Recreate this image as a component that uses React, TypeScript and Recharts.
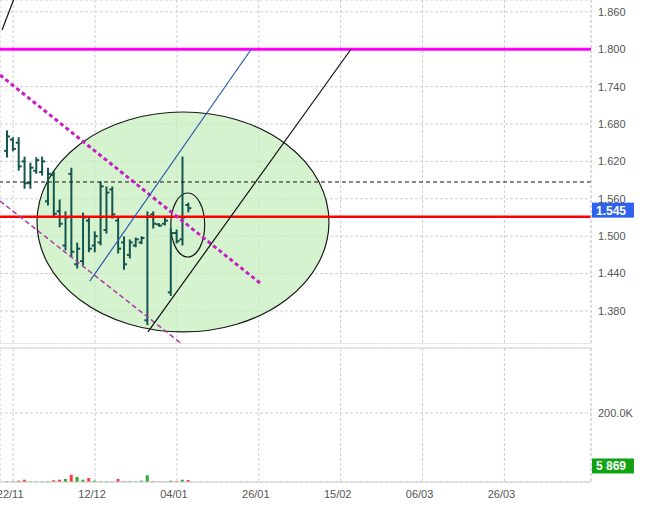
import React from 'react';
import {
  ComposedChart,
  Bar,
  Cell,
  XAxis,
  YAxis,
  CartesianGrid,
  ReferenceLine,
  ReferenceArea,
} from 'recharts';

// daily OHLC bars, oldest first
const highs = [1.669, 1.658, 1.658, 1.627, 1.617, 1.626, 1.627, 1.609, 1.603, 1.558, 1.539, 1.609, 1.489, 1.537, 1.531, 1.507, 1.587, 1.579, 1.579, 1.529, 1.499, 1.494, 1.497, 1.499, 1.539, 1.539, 1.520, 1.529, 1.512, 1.510, 1.627, 1.553];
const lows = [1.627, 1.637, 1.606, 1.577, 1.577, 1.601, 1.598, 1.550, 1.531, 1.515, 1.478, 1.467, 1.449, 1.454, 1.475, 1.475, 1.486, 1.505, 1.529, 1.473, 1.447, 1.465, 1.483, 1.488, 1.358, 1.513, 1.516, 1.518, 1.405, 1.489, 1.486, 1.539];
const opens = [1.637, 1.655, 1.650, 1.620, 1.585, 1.605, 1.603, 1.556, 1.598, 1.540, 1.485, 1.600, 1.455, 1.460, 1.525, 1.485, 1.490, 1.510, 1.575, 1.525, 1.490, 1.470, 1.485, 1.490, 1.365, 1.535, 1.519, 1.520, 1.410, 1.505, 1.495, 1.550];
const closes = [1.660, 1.640, 1.612, 1.585, 1.610, 1.622, 1.620, 1.600, 1.536, 1.520, 1.530, 1.475, 1.480, 1.530, 1.480, 1.500, 1.580, 1.570, 1.535, 1.480, 1.455, 1.490, 1.495, 1.497, 1.532, 1.520, 1.517, 1.525, 1.505, 1.492, 1.530, 1.545];
const volumes = [2000, 2000, 3800, 6700, 1500, 1500, 1500, 2000, 4900, 6700, 8700, 21000, 14500, 6700, 11600, 3800, 2000, 2000, 1500, 8700, 2000, 2000, 1500, 3800, 19400, 2000, 1000, 1000, 3800, 2000, 6700, 5869];

// x axis: bar index, labels every 14 sessions (future part is empty)
const dateTicks = [1, 15, 29, 43, 57, 71, 85];
const dateLabels = ['22/11', '12/12', '04/01', '26/01', '15/02', '06/03', '26/03'];
const xDomain = [-1.25, 99.8];

const priceTicks = [1.38, 1.44, 1.5, 1.56, 1.62, 1.68, 1.74, 1.8, 1.86];
const priceDomain = [1.327, 1.879];
const volumeTicks = [200000];
const volumeDomain = [0, 388400];

// drawn annotations (data coordinates: bar index, price)
const resistance = 1.8;
const support = 1.531;
const pivot = 1.587;
const blueTrend = [{ x: 14.1, y: 1.428 }, { x: 41.7, y: 1.8 }];
const blackTrend = [{ x: 24.05, y: 1.3463 }, { x: 58.75, y: 1.8 }];
const blackTrendOld = [{ x: -0.9, y: 1.8308 }, { x: 1.3, y: 1.885 }];
const dottedChannel = [{ x: -1.25, y: 1.7586 }, { x: 43.2, y: 1.4249 }];
const thinChannel = [{ x: -1.25, y: 1.5565 }, { x: 29.86, y: 1.327 }];
const bigEllipse = { x1: 5.08, x2: 55, y1: 1.3463, y2: 1.6993 };
const smallEllipse = { x1: 27.95, x2: 33.75, y1: 1.4666, y2: 1.5693 };

const rows = highs.map((h, i) => ({
  i,
  range: [lows[i], h],
  high: h,
  low: lows[i],
  open: opens[i],
  close: closes[i],
  volume: volumes[i],
}));

const lastPrice = closes[closes.length - 1];
const lastVolume = volumes[volumes.length - 1];

const FONT = '"Liberation Sans", Arial, sans-serif';
const tickStyle = { fontSize: 11, fill: '#555', fontFamily: FONT };
const gridColor = '#cfcfcf';

const OhlcBar = (props: any) => {
  const { x, y, width, height, payload } = props;
  if (x == null || y == null) return null;
  const cx = x + width / 2;
  const span = payload.high - payload.low;
  const toY = (v: number) => (span > 0 ? y + ((payload.high - v) / span) * height : y);
  const oy = toY(payload.open);
  const cy = toY(payload.close);
  return (
    <g stroke="#14564f" strokeWidth={2}>
      <line x1={cx} x2={cx} y1={y - 0.5} y2={y + Math.max(height, 1) + 0.5} />
      <line x1={cx - 3} x2={cx} y1={oy} y2={oy} />
      <line x1={cx} x2={cx + 3} y1={cy} y2={cy} />
    </g>
  );
};

const ellipseShape = (fill: string, opacity: number) => (p: any) => (
  <ellipse
    cx={p.x + p.width / 2}
    cy={p.y + p.height / 2}
    rx={Math.abs(p.width) / 2}
    ry={Math.abs(p.height) / 2}
    fill={fill}
    fillOpacity={opacity}
    stroke="#1a1a1a"
    strokeWidth={1.2}
  />
);

const Badge = ({ viewBox, text, color, shift }: any) => {
  if (!viewBox) return null;
  const bx = viewBox.x + viewBox.width + 1;
  const by = viewBox.y - 7.5 + shift;
  return (
    <g>
      <rect x={bx} y={by} width={42} height={15} fill={color} />
      <text x={bx + 4} y={by + 12} fill="#fff" fontSize={12} fontWeight="bold" fontFamily={FONT}>
        {text}
      </text>
    </g>
  );
};

const fmtVolume = (v: number) => String(v).replace(/\B(?=(\d{3})+(?!\d))/g, ' ');

export default function App() {
  return (
    <div style={{ position: 'absolute', left: 0, top: 0, width: 648, height: 512, background: '#fff' }}>
      <ComposedChart width={648} height={344} data={rows} margin={{ top: 0, right: 0, bottom: 0, left: 0 }}>
        <CartesianGrid stroke={gridColor} strokeDasharray="3 2" />
        <XAxis dataKey="i" type="number" domain={xDomain} ticks={dateTicks} hide allowDataOverflow />
        <YAxis
          orientation="right"
          width={57}
          domain={priceDomain}
          ticks={priceTicks}
          allowDataOverflow
          tickLine={false}
          tickSize={5}
          axisLine={{ stroke: gridColor, strokeDasharray: '3 2' }}
          tick={tickStyle}
          tickFormatter={(v: number) => v.toFixed(3)}
        />
        <ReferenceArea {...bigEllipse} shape={ellipseShape('#c6eebd', 0.72)} />
        <Bar dataKey="range" barSize={6} shape={<OhlcBar />} isAnimationActive={false} />
        <ReferenceArea {...smallEllipse} shape={ellipseShape('none', 0)} />
        <ReferenceLine y={priceDomain[0]} stroke={gridColor} strokeDasharray="3 2" />
        <ReferenceLine y={pivot} stroke="#111" strokeDasharray="4 3" />
        <ReferenceLine y={support} stroke="#ff0000" strokeWidth={2.5} />
        <ReferenceLine y={resistance} stroke="#ff00ff" strokeWidth={3} />
        <ReferenceLine segment={thinChannel} ifOverflow="hidden" stroke="#a83ca8" strokeWidth={1.5} strokeDasharray="5 3" />
        <ReferenceLine segment={dottedChannel} ifOverflow="hidden" stroke="#c51fc5" strokeWidth={3} strokeDasharray="4 3" />
        <ReferenceLine segment={blueTrend} ifOverflow="hidden" stroke="#2b5bb0" strokeWidth={1.2} />
        <ReferenceLine segment={blackTrend} ifOverflow="hidden" stroke="#111" strokeWidth={1.2} />
        <ReferenceLine segment={blackTrendOld} ifOverflow="hidden" stroke="#111" strokeWidth={1.2} />
        <ReferenceLine
          y={lastPrice}
          stroke="none"
          label={<Badge text={lastPrice.toFixed(3)} color="#2f62ee" shift={2} />}
        />
      </ComposedChart>
      <div style={{ position: 'absolute', left: 0, top: 346 }}>
        <ComposedChart width={648} height={166} data={rows} margin={{ top: 2, right: 0, bottom: 0, left: 0 }}>
          <CartesianGrid stroke={gridColor} strokeDasharray="3 2" />
          <XAxis
            dataKey="i"
            type="number"
            domain={xDomain}
            ticks={dateTicks}
            interval={0}
            allowDataOverflow
            height={30}
            tickLine={false}
            tickSize={6}
            axisLine={{ stroke: gridColor }}
            tick={tickStyle}
            dx={-3}
            tickFormatter={(v: number) => dateLabels[dateTicks.indexOf(v)]}
          />
          <YAxis
            orientation="right"
            width={57}
            domain={volumeDomain}
            ticks={volumeTicks}
            allowDataOverflow
            tickLine={false}
            tickSize={5}
            axisLine={{ stroke: gridColor, strokeDasharray: '3 2' }}
            tick={tickStyle}
            tickFormatter={(v: number) => (v / 1000).toFixed(1) + 'K'}
          />
          <ReferenceLine y={volumeDomain[1]} stroke={gridColor} strokeDasharray="3 2" />
          <Bar dataKey="volume" barSize={3} isAnimationActive={false}>
            {rows.map((r) => (
              <Cell key={r.i} fill={r.close >= r.open ? '#2eaa2e' : '#ff3b3b'} />
            ))}
          </Bar>
          <ReferenceLine
            y={lastVolume}
            stroke="none"
            label={<Badge text={fmtVolume(lastVolume)} color="#12a312" shift={-14} />}
          />
        </ComposedChart>
      </div>
    </div>
  );
}
